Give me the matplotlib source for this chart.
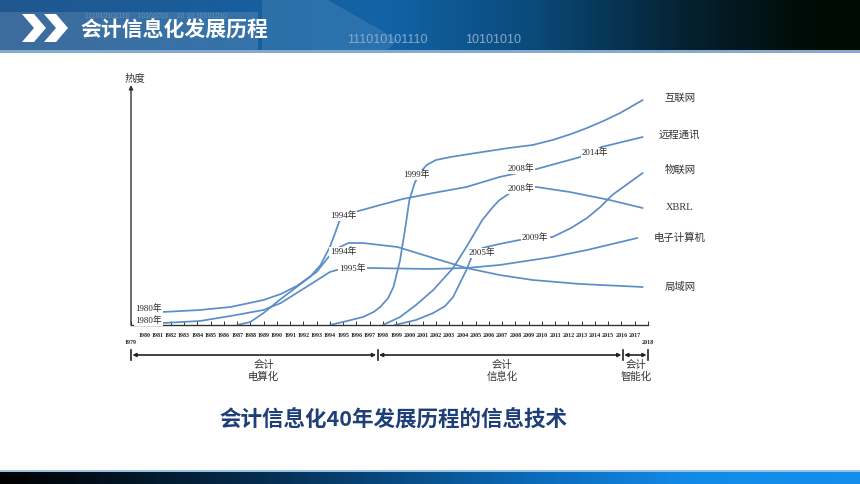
import numpy as np
import matplotlib
matplotlib.use('Agg')
import matplotlib.pyplot as plt
from matplotlib.colors import LinearSegmentedColormap
from matplotlib.patches import Polygon, Rectangle

plt.rcParams['font.family'] = ['Noto Sans CJK SC', 'DejaVu Sans']

# ---- data (year, heat) ----
lan_years = [1981.4, 1984.2, 1986.5, 1989.0, 1990.3, 1991.5, 1993.0, 1993.9, 1994.6, 1995.4,
             1996.5, 1999.1, 2001.8, 2004.3, 2006.8, 2009.3, 2012.9, 2017.6]
lan_heat = [13, 15, 18, 25, 31, 39, 53, 68, 77, 82, 82, 78, 67, 57, 50, 45, 41, 38]

computer_years = [1981.4, 1984.2, 1986.5, 1989.0, 1990.3, 1991.5, 1992.7, 1994.0, 1995.1,
                  1997.0, 2001.5, 2004.3, 2006.8, 2009.3, 2010.8, 2013.4, 2017.2]
computer_heat = [2, 4, 9, 15, 22, 32, 42, 53, 57, 57, 56, 57, 60, 65, 68, 75, 87]

telecom_years = [1987.0, 1988.0, 1989.0, 1990.2, 1991.7, 1992.5, 1993.3, 1994.0, 1994.4,
                 1994.8, 1995.4, 1995.9, 1997.8, 1999.5, 2001.8, 2004.3, 2006.8, 2009.6,
                 2012.9, 2014.5, 2017.6]
telecom_heat = [0, 3, 12, 25, 40, 48, 60, 78, 92, 107, 112, 113, 120, 126, 132, 138, 148,
                156, 168, 178, 188]

internet_years = [1994.0, 1995.3, 1996.5, 1997.3, 1997.8, 1998.4, 1998.8, 1999.3, 1999.7,
                  2000.0, 2000.4, 2000.8, 2001.3, 2002.0, 2003.1, 2005.5, 2007.5, 2009.3,
                  2010.8, 2012.2, 2013.4, 2014.8, 2015.9, 2017.6]
internet_heat = [0, 4, 8, 13, 18, 27, 38, 65, 98, 125, 142, 152, 160, 165, 168, 173, 177,
                 180, 185, 191, 197, 205, 212, 225]

xbrl_years = [1998.0, 1999.3, 2000.5, 2001.8, 2003.3, 2004.3, 2005.5, 2006.3, 2006.8,
              2007.6, 2008.6, 2009.6, 2012.1, 2015.1, 2017.6]
xbrl_heat = [0, 8, 20, 35, 57, 78, 105, 118, 125, 132, 136, 138, 133, 125, 117]

iot_years = [1998.9, 2000.5, 2001.8, 2002.7, 2003.3, 2004.3, 2004.7, 2005.5, 2006.8, 2008.3,
             2010.8, 2012.2, 2013.4, 2014.4, 2015.3, 2017.6]
iot_heat = [0, 5, 12, 19, 28, 55, 68, 77, 81, 85, 88, 97, 107, 118, 130, 152]

curves = [
    (internet_years, internet_heat, '互联网', 227),
    (telecom_years, telecom_heat, '远程通讯', 190),
    (iot_years, iot_heat, '物联网', 155),
    (xbrl_years, xbrl_heat, 'XBRL', 118),
    (computer_years, computer_heat, '电子计算机', 87),
    (lan_years, lan_heat, '局域网', 38),
]

# year tags sitting on the curves: (text, year, heat)
year_tags = [
    ('1980年', 1980.3, 16), ('1980年', 1980.3, 4),
    ('1994年', 1995.0, 109), ('1994年', 1995.0, 73), ('1995年', 1995.7, 56),
    ('1999年', 2000.5, 150), ('2008年', 2008.4, 156), ('2008年', 2008.4, 136),
    ('2014年', 2014.0, 172), ('2005年', 2005.5, 72), ('2009年', 2009.5, 87),
]

axis_years = list(range(1979, 2019))
period_edges = [1979, 1997.6, 2016.1, 2018]
period_names = ['会计\n电算化', '会计\n信息化', '会计\n智能化']
period_centers = [1989.0, 2007.0, 2017.1]

LINE = '#5b8ec6'
SERIF = ['Liberation Serif', 'Noto Sans CJK SC']

fig = plt.figure(figsize=(8.6, 4.84), dpi=100)

# ---- slide decoration in pixel space ----
bg = fig.add_axes([0, 0, 1, 1])
bg.set_xlim(0, 860)
bg.set_ylim(484, 0)
bg.axis('off')

head_cmap = LinearSegmentedColormap.from_list('head', [
    (0.0, (0.13, 0.34, 0.56)), (0.45, (0.07, 0.39, 0.65)), (0.62, (0.04, 0.29, 0.48)),
    (0.80, (0.02, 0.13, 0.19)), (0.93, (0.0, 0.05, 0.03)), (1.0, (0.0, 0.04, 0.02))])
grad = np.linspace(0, 1, 256).reshape(1, -1)
bg.imshow(grad, cmap=head_cmap, extent=(0, 860, 51, 0), aspect='auto')
bg.add_patch(Rectangle((0, 12), 258, 38, fc='white', alpha=0.13, ec='none'))
bg.add_patch(Polygon([(262, 0), (328, 0), (398, 40), (386, 51), (262, 51)],
                     fc='white', alpha=0.10, ec='none'))
bg.add_patch(Rectangle((0, 50), 860, 3, fc='#86aace', ec='none'))
for dx in (22, 44):
    bg.add_patch(Polygon([(dx, 14), (dx + 12, 14), (dx + 24, 28), (dx + 12, 42), (dx, 42),
                          (dx + 12, 28)], fc='white', ec='none'))
bg.text(85, 16, '111010101110    10101010    10 10 10101010', color='white', alpha=0.22,
        fontsize=5, va='center', family='Liberation Sans')
bg.text(80, 30, '会计信息化发展历程', color='white', fontsize=15, fontweight='bold', va='center')
bg.text(347, 40, '111010101110', color='#86a9cc', fontsize=9, va='center', family='Liberation Sans')
bg.text(465, 40, '10101010', color='#86a9cc', fontsize=9, va='center', family='Liberation Sans')

foot_cmap = LinearSegmentedColormap.from_list('foot', [
    (0.0, (0.0, 0.0, 0.0)), (0.3, (0.02, 0.17, 0.30)), (0.6, (0.04, 0.40, 0.70)),
    (0.8, (0.07, 0.54, 0.91)), (1.0, (0.08, 0.56, 0.93))])
bg.imshow(grad, cmap=foot_cmap, extent=(0, 860, 484, 471), aspect='auto')
bg.add_patch(Rectangle((0, 470), 860, 1.5, fc='#9cc0e0', ec='none'))

# ---- the chart ----
ax = fig.add_axes([131 / 860, (484 - 325) / 484, 517 / 860, 237 / 484])
ax.patch.set_alpha(0)
ax.set_xlim(1979, 2018)
ax.set_ylim(0, 237)
for side in ('top', 'right', 'left'):
    ax.spines[side].set_visible(False)
ax.spines['bottom'].set_color('#333333')
ax.spines['bottom'].set_linewidth(1.0)
ax.set_yticks([])

ax.set_xticks(axis_years)
ax.set_xticklabels([str(y) for y in axis_years], fontsize=4.3, fontweight='bold',
                   family='Liberation Serif', color='#222222')
ax.tick_params(axis='x', direction='in', length=3, width=0.7, color='#333333', pad=6)
ticks = ax.xaxis.get_major_ticks()
ticks[0].set_pad(11)
ticks[-1].set_pad(11)

ax.annotate('', xy=(1979, 240), xytext=(1979, 0),
            arrowprops=dict(arrowstyle='-|>', mutation_scale=6, lw=1.0, color='#333333',
                            shrinkA=0, shrinkB=0), annotation_clip=False)
ax.text(1979.3, 247, '热度', fontsize=7.5, ha='center', va='center', color='#333333',
        clip_on=False)

for xs, ys, name, label_y in curves:
    ax.plot(xs, ys, color=LINE, lw=1.25, solid_capstyle='round', solid_joinstyle='round',
            clip_on=False)
    fam = 'Liberation Serif' if name == 'XBRL' else 'Noto Sans CJK SC'
    ax.text(2020.4, label_y, name, fontsize=7.5, ha='center', va='center', color='#333333',
            family=fam, clip_on=False)

for txt, x, y in year_tags:
    ax.text(x, y, txt, fontsize=6.3, ha='center', va='center', family=SERIF, color='#222222',
            bbox=dict(boxstyle='square,pad=0.12', fc='white', ec='none'), zorder=5)

# period brackets under the axis
for a, b in zip(period_edges[:-1], period_edges[1:]):
    ax.annotate('', xy=(a, -30), xytext=(b, -30),
                arrowprops=dict(arrowstyle='<|-|>', mutation_scale=5, lw=1.2, color='#222222',
                                shrinkA=1, shrinkB=1), annotation_clip=False)
for e in period_edges:
    ax.plot([e, e], [-35, -25], color='#222222', lw=1.2, clip_on=False)
for name, cx in zip(period_names, period_centers):
    ax.text(cx, -46, name, fontsize=7.5, ha='center', va='center', color='#333333',
            linespacing=1.15, clip_on=False)

fig.text(393 / 860, 1 - 420 / 484, '会计信息化40年发展历程的信息技术', fontsize=15.5,
         fontweight='bold', color='#1f3f78', ha='center', va='center')

fig.savefig('out.png', dpi=100)
